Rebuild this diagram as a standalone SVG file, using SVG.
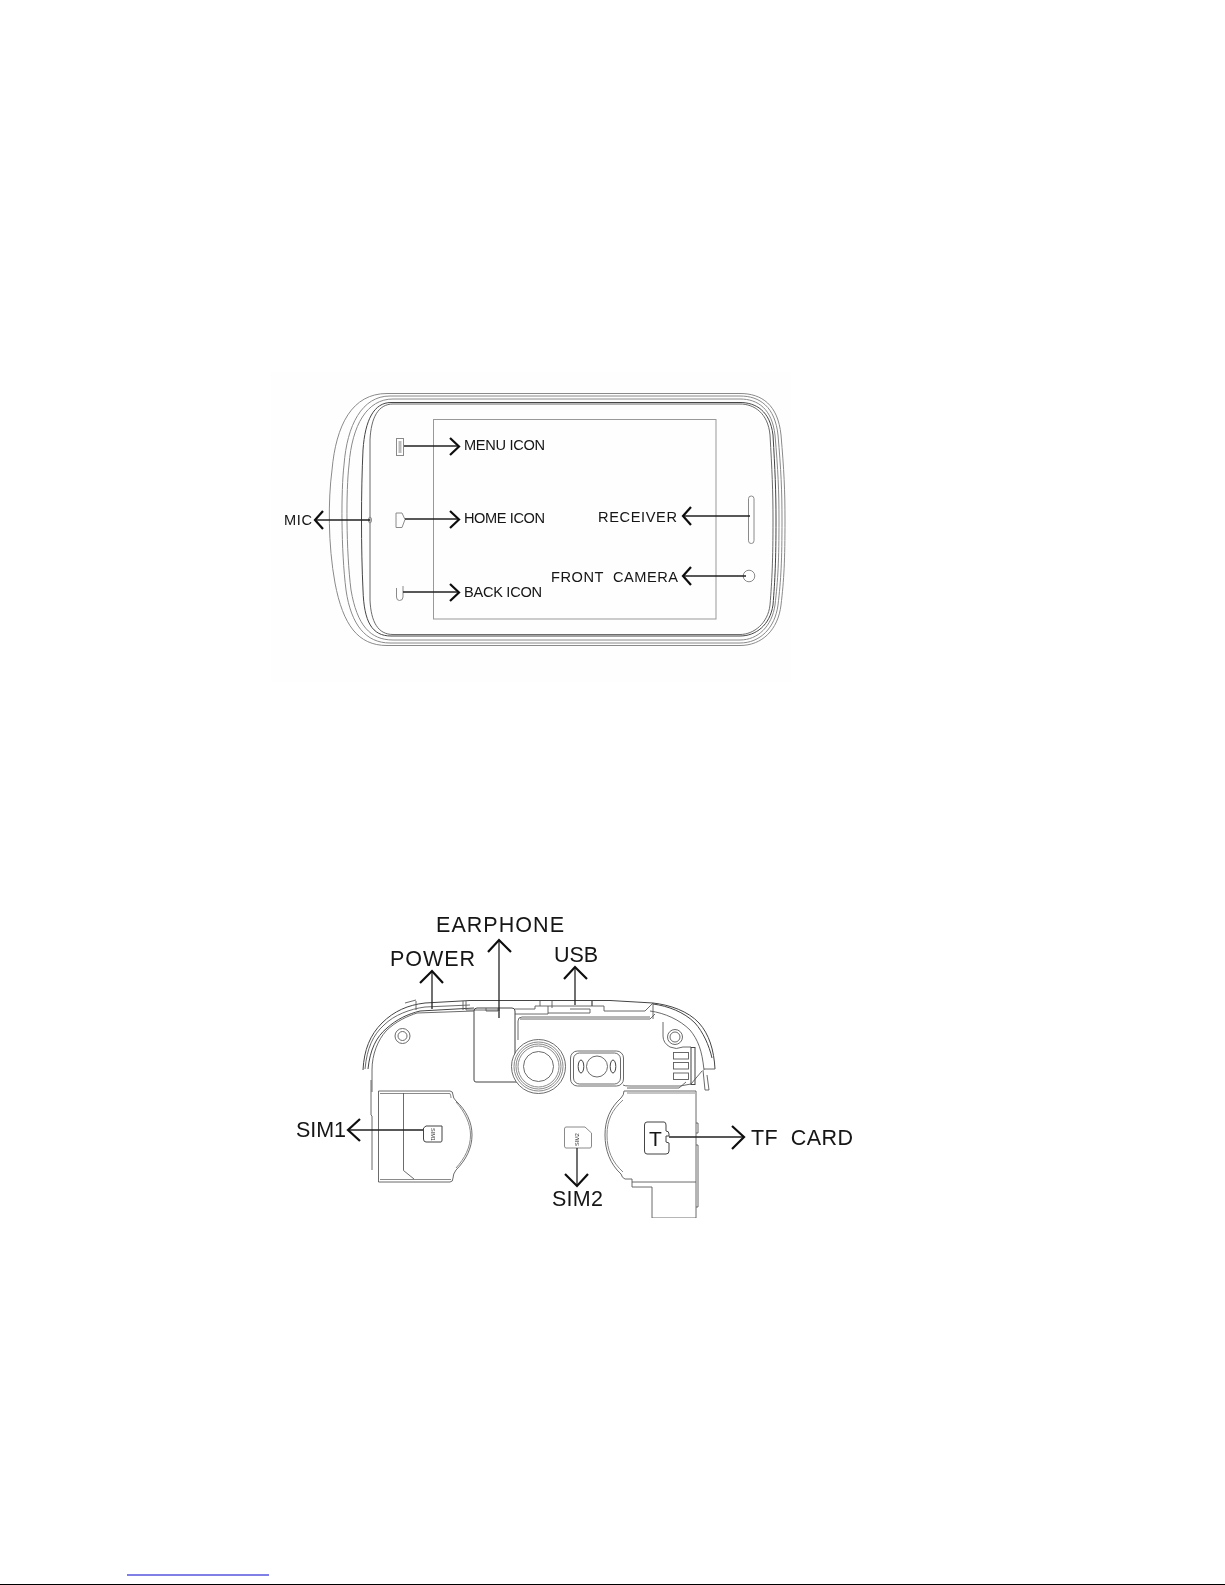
<svg xmlns="http://www.w3.org/2000/svg" width="1225" height="1585" viewBox="0 0 1225 1585">
<style>
text{font-family:"Liberation Sans",Arial,sans-serif;fill:#141414}
.s{font-size:14.600px}
.b{font-size:21.500px}
.l{fill:none;stroke:#8a8a8a;stroke-width:1}
.d{fill:none;stroke:#444;stroke-width:1}
.m{fill:none;stroke:#5a5a5a;stroke-width:.9}
.a{fill:none;stroke:#222;stroke-width:1.300}
.h{fill:none;stroke:#111;stroke-width:2.200}
.t{font-size:5.500px;fill:#333}
</style>
<defs><filter id="soft" x="0" y="0" width="100%" height="100%"><feGaussianBlur stdDeviation="0.3"/></filter></defs>
<rect width="1225" height="1585" fill="#fff"/>
<rect x="271" y="372" width="520" height="310" fill="#fefefe"/>
<g filter="url(#soft)">
<g id="phone-front">
<path class="l" d="M387 393.500H740C762 393.500 778 405 781 435C784 470 785 490 785 520C785 560 784 580 781 605C778 630 762 645.500 740 645.500H387C358 645.500 343 625 335 583C328 545 328 500 332 470C336 425 352 393.500 387 393.500Z"/>
<path class="l" d="M390 396H740C760 396 775 407 778 435C781 470 782 490 782 520C782 560 781 580 778 605C775 628 760 643 740 643H390C366 643 351 625 346 590C341 550 341 490 344 465C347 425 362 396 390 396Z"/>
<path class="l" d="M393 399H740C758 399 772 409 775 435C778 470 779 490 779 520C779 560 778 580 775 605C772 626 758 640 740 640H393C370 640 357 625 351 590C346 550 346 490 349 465C352 425 367 399 393 399Z"/>
<path class="d" d="M391 402.500H740C756 402.500 770 411 773 435C775 470 776 490 776 520C776 560 775 580 773 605C770 625 756 636 740 636H391C372 636 364 622 363 590C361 550 361 490 363 450C365 420 374 402.500 391 402.500Z"/>
<path class="m" d="M393 404H740C754 404 768 413 770 435C772 470 773 490 773 520C773 560 772 580 770 605C768 623 754 634.500 740 634.500H393C378 634.500 371 622 370 600V440C371 418 378 404 393 404Z"/>
</g>
<g id="screen"><rect x="433.500" y="419.500" width="282.500" height="199.500" fill="none" stroke="#999" stroke-width="1"/></g>
<g id="menu-icon"><rect x="396.500" y="438.500" width="7" height="17" class="l"/><path d="M398.500 441H401.500V453H398.500Z" fill="#bbb"/></g>
<g id="home-icon"><path class="l" d="M396 513H402L405 519.500L402 527.500H396Z"/></g>
<g id="back-icon"><path class="l" d="M396.500 588V597Q396.500 600.500 399.500 600.500Q403 600.500 403 597V586"/></g>
<g id="mic-hole"><ellipse cx="370" cy="520" rx="1.500" ry="3" class="l"/></g>
<g id="receiver"><rect x="748.500" y="496" width="5.500" height="47.500" rx="2.700" class="l"/></g>
<g id="front-camera"><circle cx="749" cy="576" r="5.800" class="l"/></g>

<g id="earphone-body">
<path class="d" d="M363 1070C364 1050 370 1035 382 1023C394 1011 408 1005 425 1003L470 1000.500H610L653 1003C670 1005 688 1011 699 1023C709 1034 714 1050 715 1069"/>
<path class="m" d="M365 1069C367 1048 373 1035 384 1025C394 1015 410 1009 425 1007L470 1005"/>
<path class="d" d="M368 1069C370 1050 376 1037 387 1028C397 1019 408 1014 420 1011L474 1008"/>
<path class="m" d="M372 1070C372 1054 378 1040 386 1031C396 1021 408 1016 417 1013L474 1011"/>
<path class="m" d="M372 1070V1092"/>
<path class="d" d="M653 1004C668 1006 684 1012 695 1023C703 1032 709 1045 712 1058"/>
<path class="m" d="M650 1011C665 1013 680 1020 690 1030C698 1040 702 1050 704 1070"/>
<path class="m" d="M704 1069H715"/>
<path class="m" d="M703 1070L705 1090H709L707 1075"/>
<path class="m" d="M405 1003L416 1000M416 1001V1010M463 1001V1010M466 1001V1010H500M515 1009H535V1006H548V1014H515M548 1006H592V1001M552 1001V1008M540 1001V1006M570 1009H590V1013H548"/>
<path class="m" d="M592 1001V1006H604V1011H645L653 1003V1019"/>
<path class="d" d="M474 1011V1080Q474 1082 476 1082H518"/>
<path class="d" d="M474 1011Q474 1008 477 1008H512Q515 1008 515 1011V1060"/>
<path class="m" d="M486 1008V1011H498V1008"/>
<path class="m" d="M518 1040V1021Q518 1017 522 1017H650"/>
<path class="m" d="M520 1019H650L655 1014"/>
<path class="m" d="M663 1022V1036Q663 1043 670 1047Q676 1050 683 1047H691"/>
<path class="m" d="M623 1085Q624 1086 630 1086H680L691 1084L702 1071"/>
<path class="m" d="M627 1088H679L686 1082"/>
<rect x="673.500" y="1052.500" width="15" height="6.500" class="m"/>
<rect x="673.500" y="1062.500" width="15" height="6.500" class="m"/>
<rect x="673.500" y="1073" width="15" height="6.500" class="m"/>
<rect x="691" y="1047.500" width="4" height="37" class="d"/>
<circle cx="402.500" cy="1036" r="7.500" class="m"/><circle cx="402.500" cy="1036" r="4.500" class="m"/>
<circle cx="675" cy="1037" r="7.500" class="m"/><circle cx="675" cy="1037" r="5" class="m"/>
</g>
<g id="rear-camera">
<circle cx="538.500" cy="1066.500" r="27" class="m" style="fill:#fff"/>
<circle cx="538.500" cy="1066.500" r="24.500" class="l"/>
<circle cx="538.500" cy="1066.500" r="22.500" class="l"/>
<circle cx="538.500" cy="1066.500" r="20.500" class="l"/>
<circle cx="538.500" cy="1066.500" r="15" class="m"/>
</g>
<g id="flash">
<rect x="570.500" y="1051" width="53" height="35" rx="7" fill="#fff" stroke="#5a5a5a" stroke-width=".9"/>
<rect x="573.500" y="1053" width="47" height="31" rx="6" class="m"/>
<circle cx="597" cy="1066.500" r="10.500" class="m"/>
<ellipse cx="581" cy="1066.500" rx="2.800" ry="6.500" class="d"/>
<ellipse cx="613" cy="1066.500" rx="2.800" ry="6.500" class="d"/>
</g>
<g id="sim1-tray">
<path class="m" d="M378.500 1091V1182H450Q453 1182 453 1178Q453 1174 456 1170C466 1160 472 1148 472 1135C472 1122 466 1110 456 1101Q453 1098 453 1095Q453 1091 450 1091Z"/>
<path class="l" d="M380 1093.500H450Q451 1096 451 1098M380 1179.500H451"/>
<path class="l" d="M456 1102C465 1112 470.500 1124 470.500 1135C470.500 1147 465 1158 456 1168"/>
<path class="m" d="M403.500 1093V1170.500L414 1179"/>
<path class="m" d="M371 1080V1115L372 1116V1170"/>
<path class="d" d="M423.500 1128V1139Q423.500 1142 426 1142H441Q442 1142 442 1140V1126H426Z"/>
<text class="t" transform="translate(431 1128) rotate(90)">SIM1</text>
</g>
<g id="sim2-card">
<path class="l" d="M564.500 1129Q564.500 1127 566 1127H585L591.500 1133V1146Q591.500 1148 590 1148H566Q564.500 1148 564.500 1146Z"/>
<text class="t" transform="translate(579 1146) rotate(-90)">SIM2</text>
</g>
<g id="tf-tray">
<path class="m" d="M624 1091H696V1218H652V1187H632V1179H625Q622 1178 621 1174C610 1164 605 1150 605 1135C605 1120 610 1108 621 1098Q624 1095 624 1091Z"/>
<path class="l" d="M627 1093H695M607 1135C607 1120 612 1110 623 1100M607 1135C607 1150 612 1162 623 1172"/>
<path class="m" d="M632 1182H696"/>
<path class="m" d="M696 1123H698V1133H696M696 1145H698V1207H696"/>
<path class="d" d="M644.500 1125Q644.500 1122 647 1122H664Q666 1122 666 1125V1131Q669 1131 669 1134V1136H666V1142L669 1143V1151Q669 1154 666 1154H647Q644.500 1154 644.500 1151Z"/>
<text x="649" y="1146" font-size="21" textLength="13">T</text>
</g>

<g id="connectors">
<path class="a" d="M404 446H458M405 519H458M403 592H458M370 520H316M750 516H684M746 576H684"/>
<path class="h" d="M450 438L459 446.500L450 455M450 511L459 519.500L450 528M450 584L459 592.500L450 601M323 511L315 520L323 529M691 507L683 516L691 525M691 567L683 576L691 585"/>
<path class="a" d="M432 1009V972M499 1018V941M575 1005V968M423 1130H349M577 1148V1185M669 1137H743"/>
<path class="h" d="M420 983L432 971L443 983M488 952L499 940L511 952M564 979L575 967L587 979M360 1119L348 1130L360 1141M565 1174L577 1186L588 1174M732 1126L744 1137L732 1149"/>
</g>

<g id="labels">
<text class="s" x="464" y="450" textLength="81">MENU ICON</text>
<text class="s" x="464" y="523" textLength="81">HOME ICON</text>
<text class="s" x="464" y="597" textLength="78">BACK ICON</text>
<text class="s" x="284" y="525" textLength="28">MIC</text>
<text class="s" x="598" y="522" textLength="79">RECEIVER</text>
<text class="s" x="551" y="582" textLength="127" xml:space="preserve">FRONT  CAMERA</text>
<text class="b" x="436" y="932" textLength="128">EARPHONE</text>
<text class="b" x="390" y="966" textLength="85">POWER</text>
<text class="b" x="554" y="962" textLength="44">USB</text>
<text class="b" x="296" y="1137" textLength="50">SIM1</text>
<text class="b" x="552" y="1206" textLength="51">SIM2</text>
<text class="b" x="751" y="1145" textLength="102" xml:space="preserve">TF  CARD</text>
</g>
</g>
<g id="footer">
<path d="M127 1575H269" stroke="#0000cc" stroke-width="1"/>
<path d="M0 1584.500H1225" stroke="#000" stroke-width="1"/>
</g>
</svg>
